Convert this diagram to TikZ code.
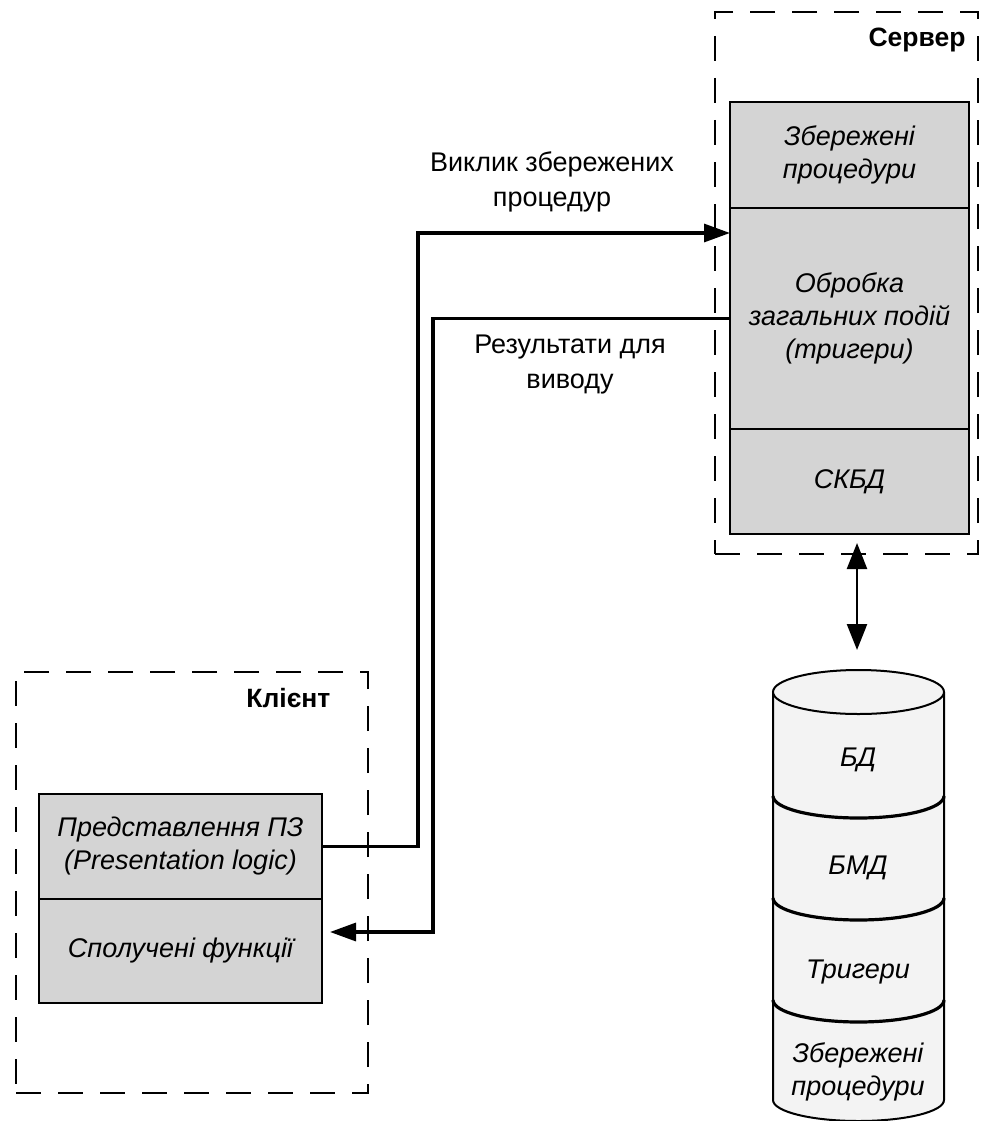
\documentclass[tikz,border=0pt]{standalone}
\usepackage{fontspec}
\setmainfont{Liberation Sans}
\usetikzlibrary{arrows.meta,positioning,calc}
\definecolor{boxgray}{RGB}{212,212,212}
\definecolor{dbgray}{RGB}{243,243,243}

\begin{document}
\begin{tikzpicture}[x=1pt,y=1pt,
  zone/.style={draw,line width=2.8pt,dash pattern=on 25pt off 17pt,
               inner sep=0pt,outer sep=0pt},
  blk/.style={draw,line width=2.2pt,fill=boxgray,inner sep=0pt,outer sep=0pt,
              align=center,font=\fontsize{27}{33}\selectfont\itshape},
  lbl/.style={font=\fontsize{27}{35}\selectfont,align=center},
  ttl/.style={font=\fontsize{26.5}{28}\selectfont\bfseries},
  dbtxt/.style={font=\fontsize{27}{33}\selectfont\itshape,align=center},
  arr/.style={line width=3.2pt,-{Triangle[length=26pt,width=18pt]}},
  dbl/.style={line width=2.4pt,{Triangle[length=26pt,width=20pt]}-{Triangle[length=26pt,width=20pt]}},
  band/.style={line width=3.2pt},
  node distance=0pt
]
\path[fill=white,use as bounding box] (0,0) rectangle (980,-1121);

% server side
\node[zone,minimum width=263,minimum height=542,anchor=north west] (srv) at (715,-12) {};
\node[ttl,anchor=base east] (srvlbl) at (969,-47) {Сервер};
\node[blk,minimum width=239,minimum height=106,anchor=north west] (sproc) at (730,-102)
  {Збережені\\процедури};
\node[blk,minimum width=239,minimum height=221,below=of sproc] (trig)
  {Обробка\\загальних подій\\(тригери)};
\node[blk,minimum width=239,minimum height=105,below=of trig] (dbms) {СКБД};

% client side
\node[zone,minimum width=352,minimum height=421,anchor=north west] (cli) at (16,-672) {};
\node[ttl,anchor=base east] (clilbl) at (334,-707) {Клієнт};
\node[blk,minimum width=283,minimum height=105,anchor=north west] (pres) at (39,-794)
  {Представлення ПЗ\\(Presentation logic)};
\node[blk,minimum width=283,minimum height=104,below=of pres] (func) {Сполучені функції};

% calls between them
\draw[arr] (pres.east) -- ++(96,0) |- ([yshift=85.5]trig.west);
\draw[arr] (trig.west) -- ++(-297,0) |- ([xshift=8,yshift=19]func.east);
\node[lbl] (calllbl) at (552,-182) {Виклик збережених\\процедур};
\node[lbl] (outlbl) at (570,-365) {Результати для\\виводу};

% database
\fill[dbgray] (773,-692) -- (773,-1100)
  arc[start angle=180,end angle=360,x radius=85.5,y radius=21] -- (944,-692) -- cycle;
\draw[line width=2pt] (773,-692) -- (773,-1100)
  arc[start angle=180,end angle=360,x radius=85.5,y radius=21] -- (944,-692);
\draw[line width=2pt,fill=dbgray] (858.5,-692) ellipse[x radius=85.5,y radius=22];
\foreach \yy in {796,898,1000}
  \draw[band] (773,-\yy) arc[start angle=180,end angle=360,x radius=85.5,y radius=22];
\node[dbtxt] (bd) at (858,-760) {БД};
\node[dbtxt] (bmd) at (858,-868) {БМД};
\node[dbtxt] (trg) at (858,-972) {Тригери};
\node[dbtxt] (sp) at (858,-1072) {Збережені\\процедури};

\coordinate (dbtop) at (857,-650);
\coordinate (srvlow) at ([yshift=11]srv.south);
\draw[dbl] (dbtop |- srvlow) -- (dbtop);
\end{tikzpicture}
\end{document}
